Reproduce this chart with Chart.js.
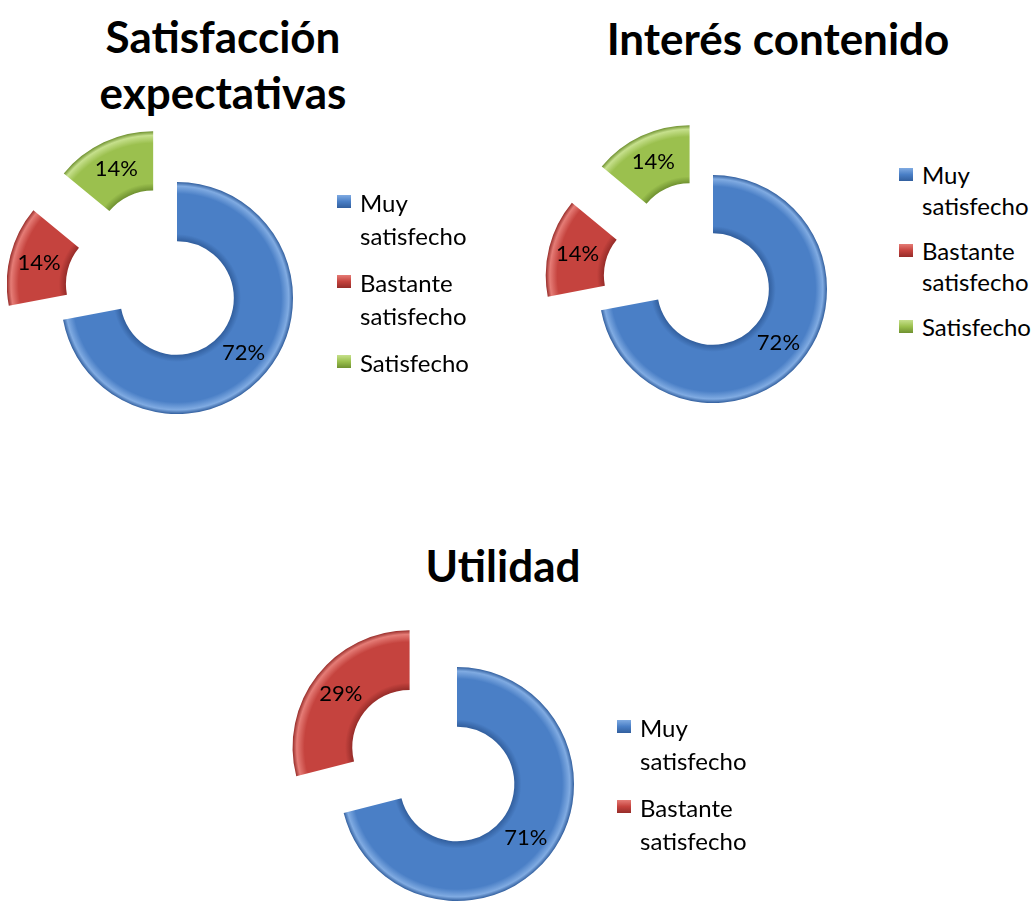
<!DOCTYPE html>
<html>
<head>
<meta charset="utf-8">
<script src="https://cdn.jsdelivr.net/npm/chart.js@4"></script>
<style>
  html, body { margin: 0; padding: 0; background: #fff; overflow: hidden; }
  body { width: 1034px; height: 904px; position: relative; font-family: Lato, "Open Sans", sans-serif; }
  canvas { position: absolute; }
  .title { position: absolute; text-align: center; font-weight: bold; font-size: 44px; line-height: 56px; color: #000; }
  .legend { position: absolute; font-size: 24px; color: #000; }
  .legend .item { position: relative; padding-left: 23px; margin-bottom: 14px; }
  .legend .box { position: absolute; left: 0; top: 9px; width: 14px; height: 13px; }
</style>
</head>
<body>
<div class="title" id="t1" style="left:0;width:446px;top:8px;"></div>
<div class="title" id="t2" style="left:560px;width:436px;top:10px;"></div>
<div class="title" id="t3" style="left:300px;width:406px;top:537px;"></div>
<canvas id="c1" width="340" height="340" style="left:7px;top:128px;"></canvas>
<canvas id="c2" width="340" height="340" style="left:543px;top:119px;"></canvas>
<canvas id="c3" width="360" height="360" style="left:277px;top:604px;"></canvas>
<div class="legend" id="l1" style="left:337px;top:186px;width:135px;line-height:33px;"></div>
<div class="legend" id="l2" style="left:899px;top:159px;width:135px;line-height:31px;"></div>
<div class="legend" id="l3" style="left:617px;top:711px;width:135px;line-height:33px;"></div>
<script>
// ---- data ----
var LABELS = ["Muy satisfecho", "Bastante satisfecho", "Satisfecho"];
var TITLE_1 = ["Satisfacción", "expectativas"];
var TITLE_2 = ["Interés contenido"];
var TITLE_3 = ["Utilidad"];
var SATISFACCION = [72, 14, 14];
var INTERES = [72, 14, 14];
var UTILIDAD = [71, 29];

var COLORS = ["#4a7fc6", "#c5433e", "#9bc04e"];
var LIGHT = ["#80abe2", "#e57c76", "#c6e08c"];
var DARK = ["#325f9e", "#962c29", "#6f9130"];

var CUTOUT = 0.49;

function setTitle(id, lines) {
  document.getElementById(id).innerHTML = lines.join("<br>");
}

function buildLegend(id, n) {
  var el = document.getElementById(id), html = "";
  for (var i = 0; i < n; i++) {
    html += '<div class="item"><span class="box" style="background:linear-gradient(' +
      LIGHT[i] + ',' + COLORS[i] + ' 50%,' + DARK[i] + ')"></span>' + LABELS[i] + '</div>';
  }
  el.innerHTML = html;
}

// bevel-like shading across the ring thickness
function ringFill(c) {
  var i = c.dataIndex, ch = c.chart, a = ch.chartArea;
  if (i === undefined || !a) return COLORS[0];
  var cx = (a.left + a.right) / 2, cy = (a.top + a.bottom) / 2;
  var ro = ch.options.radius, ri = ro * CUTOUT;
  var g = ch.ctx.createRadialGradient(cx, cy, ri, cx, cy, ro);
  g.addColorStop(0, DARK[i]);
  g.addColorStop(0.12, COLORS[i]);
  g.addColorStop(0.8, COLORS[i]);
  g.addColorStop(0.93, LIGHT[i]);
  g.addColorStop(1, DARK[i]);
  return g;
}

// exploded slices: each arc is moved outward along its bisector, shape unchanged
var explode = {
  id: "explode",
  beforeDatasetDraw: function (chart, args, opts) {
    var ctx = chart.ctx, dist = opts.dist || [];
    args.meta.data.forEach(function (arc, i) {
      var mid = (arc.startAngle + arc.endAngle) / 2, d = dist[i] || 0;
      ctx.save();
      ctx.translate(Math.cos(mid) * d, Math.sin(mid) * d);
      arc.draw(ctx, chart.chartArea);
      ctx.restore();
    });
    return false;
  },
  afterDatasetsDraw: function (chart, args, opts) {
    var ctx = chart.ctx, meta = chart.getDatasetMeta(0), data = chart.data.datasets[0].data, dist = opts.dist || [];
    ctx.save();
    ctx.font = "22px Lato, 'Open Sans', sans-serif";
    ctx.fillStyle = "#000";
    ctx.textAlign = "center";
    ctx.textBaseline = "middle";
    meta.data.forEach(function (arc, i) {
      var mid = (arc.startAngle + arc.endAngle) / 2;
      var r = (arc.innerRadius + arc.outerRadius) / 2 + (dist[i] || 0);
      ctx.fillText(data[i] + "%", arc.x + Math.cos(mid) * r, arc.y + Math.sin(mid) * r);
    });
    ctx.restore();
  }
};

function donut(id, values, radius, dist) {
  return new Chart(document.getElementById(id), {
    type: "doughnut",
    data: {
      labels: LABELS.slice(0, values.length),
      datasets: [{
        data: values,
        backgroundColor: ringFill,
        borderWidth: 0,
        hoverOffset: 0
      }]
    },
    options: {
      responsive: false,
      animation: false,
      radius: radius,
      cutout: (CUTOUT * 100) + "%",
      layout: { padding: 0 },
      events: [],
      plugins: {
        legend: { display: false },
        title: { display: false },
        tooltip: { enabled: false },
        explode: { dist: dist }
      }
    },
    plugins: [explode]
  });
}

function start() {
  setTitle("t1", TITLE_1);
  setTitle("t2", TITLE_2);
  setTitle("t3", TITLE_3);
  buildLegend("l1", SATISFACCION.length);
  buildLegend("l2", INTERES.length);
  buildLegend("l3", UTILIDAD.length);
  donut("c1", SATISFACCION, 116, [0, 56, 56]);
  donut("c2", INTERES, 114, [0, 55, 55]);
  donut("c3", UTILIDAD, 117, [0, 60]);
}

if (document.fonts && document.fonts.load) {
  document.fonts.load("22px Lato").then(start, start);
} else {
  start();
}
</script>
</body>
</html>
